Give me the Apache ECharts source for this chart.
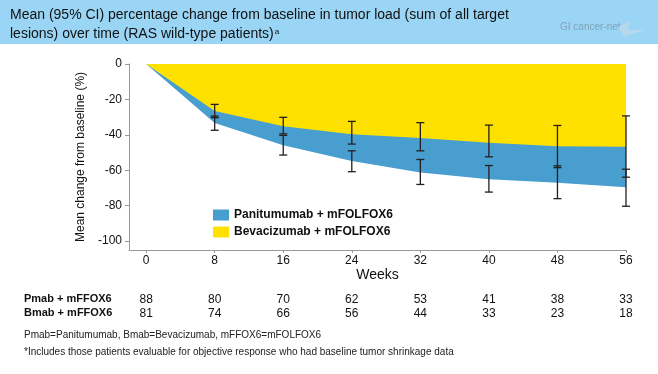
<!DOCTYPE html>
<html>
<head>
<meta charset="utf-8">
<script src="https://cdn.jsdelivr.net/npm/echarts@6/dist/echarts.min.js"></script>
<style>html,body{margin:0;padding:0;background:#fff}#c{width:658px;height:374px}</style>
</head>
<body>
<div id="c"></div>
<script>
var weeks = [0, 8, 16, 24, 32, 40, 48, 56];
var yTicks = [0, -20, -40, -60, -80, -100];
var pmabMean = [0, -33.3, -45.8, -54.8, -61.2, -65.0, -67.0, -69.6];
var bmabMean = [0, -26.5, -35.2, -39.7, -41.8, -44.5, -46.5, -46.7];
var pmabHigh = [null, -29.4, -40.3, -49.0, -53.9, -57.3, -57.5, -59.4];
var pmabLow  = [null, -37.4, -51.4, -60.8, -68.0, -72.3, -76.0, -80.3];
var bmabHigh = [null, -22.8, -30.1, -32.4, -33.1, -34.5, -34.7, -29.3];
var bmabLow  = [null, -30.3, -39.4, -45.2, -49.0, -52.4, -58.5, -63.9];
var pmabN = [88, 80, 70, 62, 53, 41, 38, 33];
var bmabN = [81, 74, 66, 56, 44, 33, 23, 18];
var pmabName = 'Panitumumab + mFOLFOX6';
var bmabName = 'Bevacizumab + mFOLFOX6';

var FONT = 'Liberation Sans, Arial, sans-serif';
var BLUE = '#489ECE';
var YELLOW = '#FFE100';

function pairs(xs, ys) { return xs.map(function (x, i) { return [x, ys[i]]; }); }
function bars(xs, lo, hi) {
  var out = [];
  xs.forEach(function (x, i) { if (lo[i] != null) out.push([x, lo[i], hi[i]]); });
  return out;
}
function errRender(params, api) {
  var x = api.value(0);
  var p1 = api.coord([x, api.value(1)]);
  var p2 = api.coord([x, api.value(2)]);
  var w = 4;
  var st = { stroke: '#231F20', lineWidth: 1.3 };
  return {
    type: 'group',
    children: [
      { type: 'line', shape: { x1: p1[0], y1: p1[1], x2: p2[0], y2: p2[1] }, style: st },
      { type: 'line', shape: { x1: p1[0] - w, y1: p1[1], x2: p1[0] + w, y2: p1[1] }, style: st },
      { type: 'line', shape: { x1: p2[0] - w, y1: p2[1], x2: p2[0] + w, y2: p2[1] }, style: st }
    ]
  };
}
function countAxis(offset, counts) {
  return {
    type: 'value', gridIndex: 0, min: -2, max: 56, position: 'bottom', offset: offset,
    axisLine: { show: false, onZero: false }, axisTick: { show: false }, splitLine: { show: false },
    axisLabel: {
      customValues: weeks, margin: 3, color: '#111', fontSize: 12, fontFamily: FONT,
      formatter: function (v) { var i = weeks.indexOf(v); return i < 0 ? '' : String(counts[i]); }
    }
  };
}

var chart = echarts.init(document.getElementById('c'), null, { renderer: 'canvas' });
chart.setOption({
  animation: false,
  textStyle: { fontFamily: FONT },
  grid: { left: 129, right: 32, top: 64, bottom: 124 },
  legend: {
    data: [pmabName, bmabName], orient: 'vertical', left: 213, top: 209, padding: 0,
    itemWidth: 16, itemHeight: 11, itemGap: 5, icon: 'rect',
    textStyle: { fontSize: 12, fontWeight: 'bold', color: '#111', fontFamily: FONT }
  },
  xAxis: [
    {
      type: 'value', min: -2, max: 56,
      name: 'Weeks', nameLocation: 'middle', nameGap: 18,
      nameTextStyle: { fontSize: 14, color: '#111', fontFamily: FONT },
      axisLine: { show: true, onZero: false, lineStyle: { color: '#999', width: 1 } },
      axisTick: { show: true, customValues: weeks, length: 3, lineStyle: { color: '#999' } },
      axisLabel: { customValues: weeks, margin: 5, fontSize: 12, color: '#111', fontFamily: FONT },
      splitLine: { show: false }
    },
    countAxis(41, pmabN),
    countAxis(55, bmabN)
  ],
  yAxis: {
    type: 'value', min: -105, max: 0,
    name: 'Mean change from baseline (%)', nameLocation: 'middle', nameGap: 40,
    nameTextStyle: { fontSize: 12, color: '#111', fontFamily: FONT },
    axisLine: { show: true, onZero: false, lineStyle: { color: '#999', width: 1 } },
    axisTick: { show: true, customValues: yTicks, length: 4, lineStyle: { color: '#999' } },
    axisLabel: { customValues: yTicks, margin: 7, fontSize: 12, color: '#111', fontFamily: FONT },
    splitLine: { show: false }
  },
  series: [
    {
      name: pmabName, type: 'line', data: pairs(weeks, pmabMean), showSymbol: false, symbol: 'none',
      lineStyle: { width: 0, color: BLUE }, itemStyle: { color: BLUE },
      areaStyle: { color: BLUE, opacity: 1 }, z: 1
    },
    {
      name: bmabName, type: 'line', data: pairs(weeks, bmabMean), showSymbol: false, symbol: 'none',
      lineStyle: { width: 0, color: YELLOW }, itemStyle: { color: YELLOW },
      areaStyle: { color: YELLOW, opacity: 1 }, z: 2
    },
    { type: 'custom', renderItem: errRender, data: bars(weeks, pmabLow, pmabHigh), z: 5, silent: true },
    { type: 'custom', renderItem: errRender, data: bars(weeks, bmabLow, bmabHigh), z: 5, silent: true }
  ],
  graphic: [
    { type: 'rect', left: 0, top: 0, z: -1, shape: { width: 658, height: 44 }, style: { fill: '#9AD5F5' } },
    {
      type: 'text', left: 10, top: 6,
      style: {
        text: 'Mean (95% CI) percentage change from baseline in tumor load (sum of all target\nlesions) over time (RAS wild-type patients){s|a}',
        font: '14px ' + FONT, fill: '#111', lineHeight: 19,
        rich: { s: { fontSize: 8, padding: [0, 0, 6, 1], fill: '#111' } }
      }
    },
    { type: 'text', left: 560, top: 22, style: { text: 'GI cancer-net', font: '10px ' + FONT, fill: '#7FA2B8' } },
    { type: 'polygon', shape: { points: [[618,28],[630,20],[628,30],[645,30],[632,34],[624,37]] }, style: { fill: '#B5D8EC' } },
    { type: 'text', left: 24, top: 293, style: { text: 'Pmab + mFFOX6', font: 'bold 11px ' + FONT, fill: '#111' } },
    { type: 'text', left: 24, top: 307, style: { text: 'Bmab + mFFOX6', font: 'bold 11px ' + FONT, fill: '#111' } },
    { type: 'text', left: 24, top: 330, style: { text: 'Pmab=Panitumumab, Bmab=Bevacizumab, mFFOX6=mFOLFOX6', font: '10px ' + FONT, fill: '#222' } },
    { type: 'text', left: 24, top: 347, style: { text: '*Includes those patients evaluable for objective response who had baseline tumor shrinkage data', font: '10px ' + FONT, fill: '#222' } }
  ]
});
</script>
</body>
</html>
